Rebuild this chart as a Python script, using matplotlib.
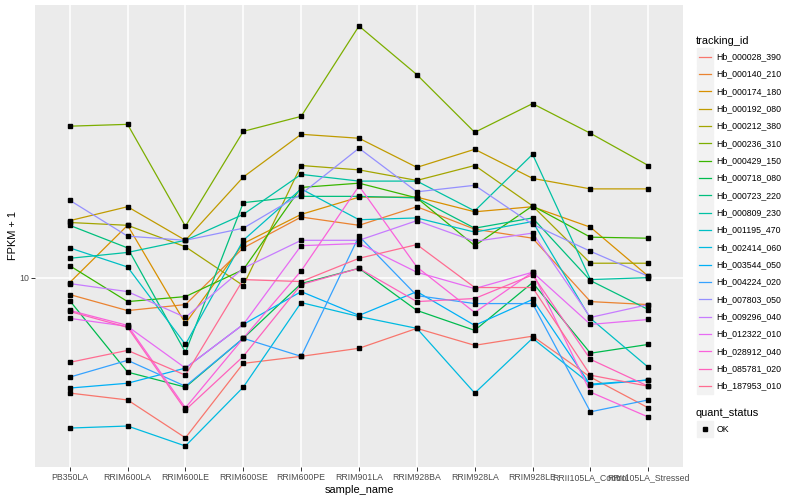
import numpy as np
import matplotlib.pyplot as plt
from matplotlib.lines import Line2D
from matplotlib.patches import Rectangle

plt.rcParams['font.family'] = ['Liberation Sans', 'DejaVu Sans']

samples = ['PB350LA', 'RRIM600LA', 'RRIM600LE', 'RRIM600SE', 'RRIM600PE', 'RRIM901LA',
           'RRIM928BA', 'RRIM928LA', 'RRIM928LE', 'RRII105LA_Control', 'RRII105LA_Stressed']

# FPKM + 1 per gene, one value per sample
hb_000028_390 = [4.34, 4.13, 3.14, 5.38, 5.66, 6.00, 6.93, 6.13, 6.55, 4.87, 3.90]
hb_000140_210 = [8.85, 7.88, 8.23, 12.4, 15.5, 14.6, 16.7, 14.2, 13.3, 8.41, 8.23]
hb_000174_180 = [9.65, 14.6, 7.18, 12.8, 15.8, 17.9, 17.9, 16.1, 16.7, 14.4, 10.1]
hb_000192_080 = [15.1, 16.7, 13.1, 20.7, 28.2, 27.4, 22.2, 25.3, 20.5, 19.0, 19.0]
hb_000212_380 = [14.9, 14.6, 12.5, 9.44, 22.5, 21.8, 20.2, 22.5, 16.8, 11.1, 11.1]
hb_000236_310 = [29.9, 30.3, 14.5, 28.8, 32.1, 61.7, 43.4, 28.6, 35.2, 28.4, 22.5]
hb_000429_150 = [10.9, 8.41, 8.72, 10.6, 19.2, 19.8, 17.8, 12.6, 16.8, 13.4, 13.3]
hb_000718_080 = [8.47, 5.05, 4.53, 6.45, 9.58, 10.7, 7.89, 6.83, 9.65, 5.79, 6.17]
hb_000723_220 = [14.6, 12.4, 5.83, 17.2, 18.0, 18.0, 17.8, 14.3, 15.4, 9.79, 7.94]
hb_000809_230 = [11.5, 12.0, 13.1, 15.8, 21.1, 20.1, 20.1, 16.2, 24.4, 9.86, 10.0]
hb_001195_470 = [12.4, 10.8, 6.17, 13.1, 19.0, 15.2, 15.4, 13.9, 15.0, 7.45, 5.23]
hb_002414_060 = [3.37, 3.42, 2.96, 4.53, 8.35, 7.55, 6.93, 4.34, 6.45, 4.63, 4.77]
hb_003544_050 = [4.50, 4.66, 5.20, 7.13, 9.04, 7.61, 9.04, 7.08, 8.54, 4.60, 4.77]
hb_004224_020 = [4.87, 5.50, 4.56, 6.45, 5.66, 13.5, 8.78, 8.29, 8.29, 3.79, 4.13]
hb_007803_050 = [17.5, 13.5, 13.1, 14.3, 18.3, 25.5, 18.6, 19.5, 14.7, 12.1, 10.1]
hb_009296_040 = [9.58, 9.04, 7.50, 10.7, 13.1, 13.1, 15.1, 13.0, 13.8, 7.50, 8.23]
hb_012322_010 = [7.45, 7.03, 5.20, 7.13, 12.6, 12.8, 10.4, 9.24, 10.4, 7.13, 7.39]
hb_028912_040 = [7.89, 7.08, 3.90, 6.45, 10.5, 19.4, 10.8, 7.77, 10.4, 4.37, 3.65]
hb_085781_020 = [7.83, 6.98, 3.84, 5.66, 9.51, 10.7, 8.41, 8.60, 10.2, 5.54, 4.56]
hb_187953_010 = [5.42, 5.91, 4.94, 9.86, 9.72, 11.5, 12.7, 9.31, 9.31, 4.94, 4.56]

ids = ['Hb_000028_390', 'Hb_000140_210', 'Hb_000174_180', 'Hb_000192_080', 'Hb_000212_380',
       'Hb_000236_310', 'Hb_000429_150', 'Hb_000718_080', 'Hb_000723_220', 'Hb_000809_230',
       'Hb_001195_470', 'Hb_002414_060', 'Hb_003544_050', 'Hb_004224_020', 'Hb_007803_050',
       'Hb_009296_040', 'Hb_012322_010', 'Hb_028912_040', 'Hb_085781_020', 'Hb_187953_010']
series = [hb_000028_390, hb_000140_210, hb_000174_180, hb_000192_080, hb_000212_380,
          hb_000236_310, hb_000429_150, hb_000718_080, hb_000723_220, hb_000809_230,
          hb_001195_470, hb_002414_060, hb_003544_050, hb_004224_020, hb_007803_050,
          hb_009296_040, hb_012322_010, hb_028912_040, hb_085781_020, hb_187953_010]

# ggplot default hue palette for 20 groups
colors = ['#F8766D', '#EA8331', '#D89000', '#C09B00', '#A3A500', '#7CAE00', '#39B600',
          '#00BB4E', '#00BF7D', '#00C1A3', '#00BFC4', '#00BAE0', '#00B0F6', '#35A2FF',
          '#9590FF', '#C77CFF', '#E76BF3', '#FA62DB', '#FF62BC', '#FF6C91']

W, H = 800, 500
fig = plt.figure(figsize=(8, 5), dpi=100)
ax = fig.add_axes([35 / W, 33 / H, 648 / W, 462 / H])
ax.set_facecolor('#EBEBEB')
for s in ax.spines.values():
    s.set_visible(False)

x = np.arange(len(samples))
for xi in x:
    ax.axvline(xi, color='white', lw=1.1, zorder=0)
ax.axhline(10, color='white', lw=1.1, zorder=0)

for vals, c in zip(series, colors):
    ax.plot(x, vals, color=c, lw=0.9, zorder=2)
for vals in series:
    ax.plot(x, vals, ls='none', marker='s', ms=2.2, color='black', zorder=3)

ax.set_yscale('log')
allv = np.log10(np.concatenate(series))
lo, hi = allv.min(), allv.max()
pad = (hi - lo) * 0.05
ax.set_ylim(10 ** (lo - pad), 10 ** (hi + pad))
ax.set_xlim(-0.6, len(samples) - 0.4)
ax.set_yticks([10])
ax.set_yticklabels(['10'])
ax.yaxis.set_minor_locator(plt.NullLocator())
ax.set_xticks(x)
ax.set_xticklabels(samples)
ax.tick_params(axis='both', colors='#333333', labelcolor='#4D4D4D', length=2.8,
               width=0.7, labelsize=6.3, pad=1.5)

ax.set_xlabel('sample_name', fontsize=7.9, labelpad=2)
ax.set_ylabel('FPKM + 1', fontsize=7.9, labelpad=0.5)


def fx(px):
    return px / W


def fy(py):
    return 1 - py / H


# legend: tracking_id
fig.text(fx(696), fy(41), 'tracking_id', fontsize=7.9, va='center', ha='left')
step = 17.33
for i, (name, c) in enumerate(zip(ids, colors)):
    cy = 56.7 + i * step
    fig.patches.append(Rectangle((fx(697), fy(cy + 8)), 15.5 / W, 16.5 / H,
                                 transform=fig.transFigure, color='#F2F2F2', zorder=1))
    fig.lines.append(Line2D([fx(699), fx(711)], [fy(cy), fy(cy)], color=c, lw=0.9,
                            transform=fig.transFigure))
    fig.text(fx(716.5), fy(cy), name, fontsize=6.3, va='center', ha='left')

# legend: quant_status
fig.text(fx(696), fy(412.5), 'quant_status', fontsize=7.9, va='center', ha='left')
fig.patches.append(Rectangle((fx(697), fy(437)), 15.5 / W, 16.5 / H,
                             transform=fig.transFigure, color='#F2F2F2', zorder=1))
fig.lines.append(Line2D([fx(705)], [fy(429)], ls='none', marker='s', ms=2.2, color='black',
                        transform=fig.transFigure))
fig.text(fx(716.5), fy(429), 'OK', fontsize=6.3, va='center', ha='left')

fig.savefig('out.png', dpi=100)
